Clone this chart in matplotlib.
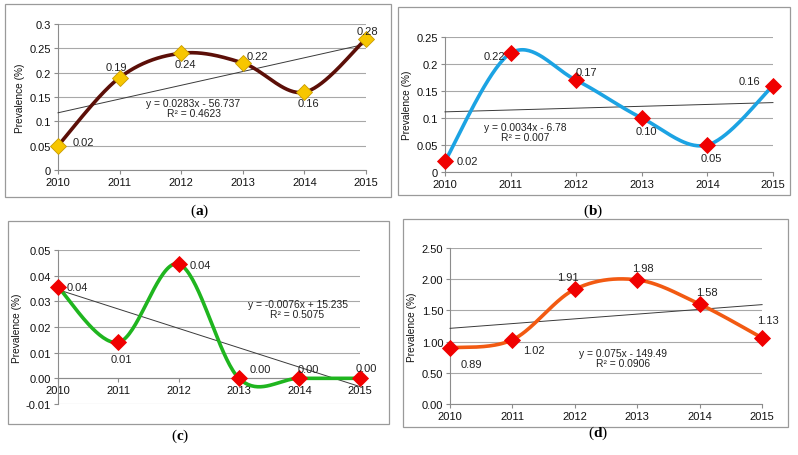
import numpy as np
import matplotlib
matplotlib.use("Agg")
import matplotlib.pyplot as plt
from matplotlib.patches import Rectangle

plt.rcParams["font.family"] = ["Liberation Sans", "DejaVu Sans"]
plt.rcParams["mathtext.fontset"] = "custom"
plt.rcParams["mathtext.bf"] = "Liberation Serif:bold"

YEARS = [2010, 2011, 2012, 2013, 2014, 2015]

# plotted marker values and the printed data labels (they differ in the source)
VALS_A = [0.05, 0.19, 0.24, 0.22, 0.16, 0.27]
LABS_A = ["0.02", "0.19", "0.24", "0.22", "0.16", "0.28"]
VALS_B = [0.02, 0.22, 0.17, 0.10, 0.05, 0.16]
LABS_B = ["0.02", "0.22", "0.17", "0.10", "0.05", "0.16"]
VALS_C = [0.0355, 0.014, 0.0445, 0.0, 0.0, 0.0]
LABS_C = ["0.04", "0.01", "0.04", "0.00", "0.00", "0.00"]
VALS_D = [0.90, 1.03, 1.84, 1.99, 1.60, 1.06]
LABS_D = ["0.89", "1.02", "1.91", "1.98", "1.58", "1.13"]

EQ_A = "y = 0.0283x - 56.737\nR² = 0.4623"
EQ_B = "y = 0.0034x - 6.78\nR² = 0.007"
EQ_C = "y = -0.0076x + 15.235\nR² = 0.5075"
EQ_D = "y = 0.075x - 149.49\nR² = 0.0906"


def smooth(x, y, n=40):
    # Excel-style smoothed line: cubic Bezier with control points at 1/6 tangents
    p = np.column_stack([x, y]).astype(float)
    p_ext = np.vstack([p[0], p, p[-1]])
    t = np.linspace(0, 1, n)[:, None]
    out = []
    for i in range(len(p) - 1):
        p0, p1, p2, p3 = p_ext[i], p_ext[i + 1], p_ext[i + 2], p_ext[i + 3]
        c1 = p1 + (p2 - p0) / 6
        c2 = p2 - (p3 - p1) / 6
        seg = ((1 - t) ** 3) * p1 + 3 * ((1 - t) ** 2) * t * c1 + 3 * (1 - t) * t ** 2 * c2 + t ** 3 * p2
        out.append(seg if i == 0 else seg[1:])
    s = np.vstack(out)
    return s[:, 0], s[:, 1]


fig = plt.figure(figsize=(7.98, 4.56), dpi=100)

# panel frames (left, bottom, width, height) in figure fraction
FRAMES = [(0.0063, 0.566, 0.484, 0.423), (0.4987, 0.570, 0.491, 0.412),
          (0.010, 0.068, 0.477, 0.445), (0.505, 0.0614, 0.482, 0.456)]
for fr in FRAMES:
    fig.patches.append(Rectangle(fr[:2], fr[2], fr[3], transform=fig.transFigure,
                                 fill=False, edgecolor="#9a9a9a", linewidth=0.9))

PANELS = [
    dict(pos=[0.0727, 0.625, 0.386, 0.320], vals=VALS_A, labs=LABS_A, eq=EQ_A,
         line="#5c0f08", mfc="#f7c600", mec="#c89a00",
         ylim=(0, 0.3), yticks=np.arange(0, 0.31, 0.05), yfmt="{:g}",
         eqpos=(2012.2, 0.128), cap="a", cappos=(0.25, 0.537),
         offs=[(25, 4), (-3, 11), (4, -11), (15, 7), (4, -11), (1, 8)]),
    dict(pos=[0.5576, 0.6206, 0.411, 0.296], vals=VALS_B, labs=LABS_B, eq=EQ_B,
         line="#1ca3e3", mfc="#f00000", mec="#f00000",
         ylim=(0, 0.25), yticks=np.arange(0, 0.26, 0.05), yfmt="{:g}",
         eqpos=(2011.23, 0.075), cap="b", cappos=(0.743, 0.537),
         offs=[(22, 0), (-16, -3), (10, 8), (5, -13), (4, -13), (-24, 5)]),
    dict(pos=[0.0727, 0.1118, 0.378, 0.338], vals=VALS_C, labs=LABS_C, eq=EQ_C,
         line="#1fb51f", mfc="#f00000", mec="#f00000",
         ylim=(-0.01, 0.05), yticks=np.arange(-0.01, 0.051, 0.01), yfmt="{:.2f}",
         eqpos=(2013.97, 0.0271), cap="c", cappos=(0.226, 0.044),
         offs=[(19, 0), (3, -17), (22, -1), (21, 9), (9, 9), (7, 10)]),
    dict(pos=[0.564, 0.1118, 0.391, 0.342], vals=VALS_D, labs=LABS_D, eq=EQ_D,
         line="#f25a12", mfc="#f00000", mec="#f00000",
         ylim=(0, 2.5), yticks=np.arange(0, 2.51, 0.5), yfmt="{:.2f}",
         eqpos=(2012.77, 0.745), cap="d", cappos=(0.749, 0.050),
         offs=[(21, -16), (21, -10), (-7, 12), (6, 12), (7, 12), (6, 18)]),
]

for p in PANELS:
    ax = fig.add_axes(p["pos"])
    x = np.array(YEARS, dtype=float)
    y = np.array(p["vals"], dtype=float)
    # linear trendline
    k, b = np.polyfit(x, y, 1)
    ax.plot(x[[0, -1]], k * x[[0, -1]] + b, color="#3a3a3a", lw=0.7, zorder=3, clip_on=False)
    sx, sy = smooth(x, y)
    ax.plot(sx, sy, color=p["line"], lw=2.6, zorder=4, solid_capstyle="round", clip_on=False)
    ax.plot(x, y, ls="none", marker="D", ms=8, mfc=p["mfc"], mec=p["mec"], mew=0.6,
            zorder=5, clip_on=False)
    for xi, yi, lab, off in zip(x, y, p["labs"], p["offs"]):
        ax.annotate(lab, (xi, yi), xytext=off, textcoords="offset pixels",
                    ha="center", va="center", fontsize=8, color="#222222", zorder=6)
    ax.text(*p["eqpos"], p["eq"], ha="center", va="center", fontsize=7.4,
            color="#222222", linespacing=1.0, zorder=6)

    ax.set_xlim(2010, 2015)
    ax.set_ylim(*p["ylim"])
    ax.set_xticks(YEARS)
    ax.set_yticks(p["yticks"])
    ax.set_yticklabels([p["yfmt"].format(round(v, 2)) for v in p["yticks"]])
    ax.yaxis.grid(True, color="#a8a8a8", lw=0.8)
    ax.set_axisbelow(True)
    for s in ["top", "right"]:
        ax.spines[s].set_visible(False)
    for s in ["left", "bottom"]:
        ax.spines[s].set_color("#8c8c8c")
        ax.spines[s].set_linewidth(0.8)
    if p["ylim"][0] < 0:
        ax.spines["bottom"].set_position(("data", 0))
    ax.tick_params(axis="both", labelsize=8, colors="#8c8c8c", labelcolor="#111111",
                   length=3, width=0.8, pad=2)
    ax.set_ylabel("Prevalence (%)", fontsize=7.3, color="#111111", labelpad=3)
    ax.set_facecolor("none")

    fig.text(*p["cappos"], "(" + r"$\mathbf{" + p["cap"] + "}$" + ")", ha="center", va="center",
             fontsize=11, family="Liberation Serif")

fig.savefig("out.png", dpi=100, facecolor="white")
